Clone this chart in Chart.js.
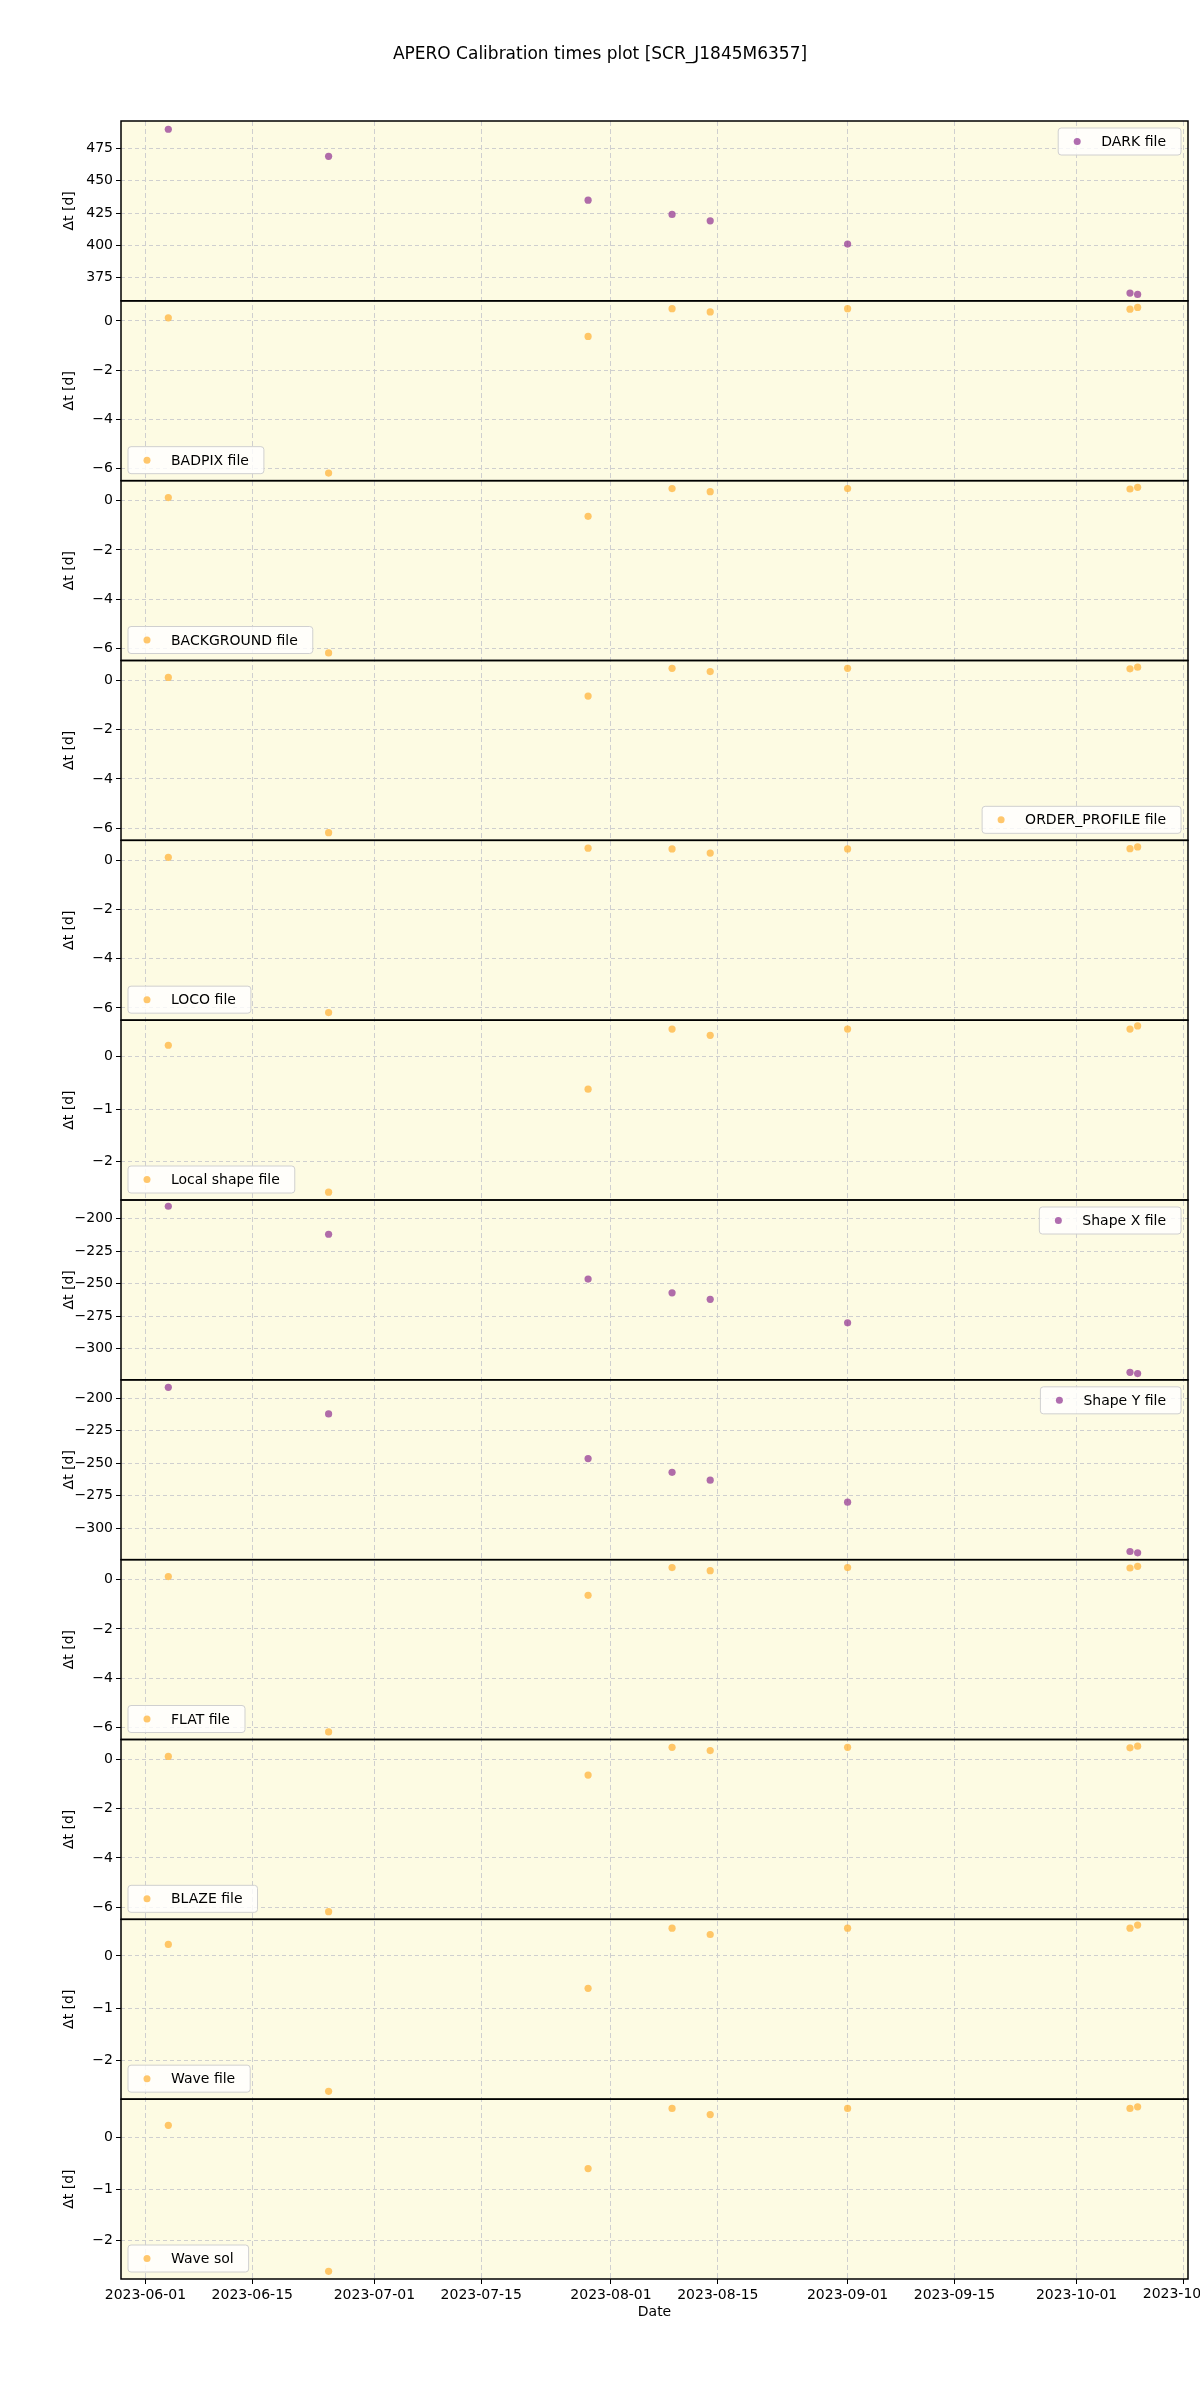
<!DOCTYPE html>
<html><head><meta charset="utf-8">
<script src="https://cdn.jsdelivr.net/npm/chart.js@4.4.0/dist/chart.umd.min.js"></script>
<style>
body{margin:0;background:#fff;width:1200px;height:2400px;position:relative;font-family:"DejaVu Sans";}
canvas{position:absolute;left:0;top:0;}
#title{position:absolute;top:43px;width:1200px;text-align:center;font-size:17px;color:#000;}
#xlab{position:absolute;top:2303px;left:121px;width:1067px;text-align:center;font-size:14px;}
</style></head><body>
<canvas id="c" width="1200" height="2400" style="width:1200px;height:2400px"></canvas>
<div id="title">APERO Calibration times plot [SCR_J1845M6357]</div>
<div id="xlab">Date</div>
<script>
const dates = ["2023-06-04","2023-06-25","2023-07-29","2023-08-09","2023-08-14","2023-09-01","2023-10-08","2023-10-09"];
const tickDates = ["2023-06-01","2023-06-15","2023-07-01","2023-07-15","2023-08-01","2023-08-15","2023-09-01","2023-09-15","2023-10-01","2023-10-15"];
const darkVals = [490, 469, 435, 424, 419, 401, 363, 362];
const badpixVals = [0.13, -6.19, -0.63, 0.5, 0.37, 0.5, 0.48, 0.55];
const backgroundVals = [0.13, -6.19, -0.63, 0.5, 0.37, 0.5, 0.48, 0.55];
const orderProfileVals = [0.13, -6.19, -0.63, 0.5, 0.37, 0.5, 0.48, 0.55];
const locoVals = [0.13, -6.19, 0.5, 0.47, 0.3, 0.47, 0.48, 0.55];
const localShapeVals = [0.22, -2.59, -0.62, 0.53, 0.41, 0.53, 0.53, 0.59];
const shapeXVals = [-190.5, -212, -246.4, -257, -262, -280, -318, -319];
const shapeYVals = [-191.5, -212, -246.4, -257, -263, -280, -318, -319];
const flatVals = [0.13, -6.19, -0.63, 0.5, 0.37, 0.5, 0.48, 0.55];
const blazeVals = [0.13, -6.19, -0.63, 0.5, 0.37, 0.5, 0.48, 0.55];
const waveFileVals = [0.22, -2.59, -0.62, 0.53, 0.41, 0.53, 0.53, 0.59];
const waveSolVals = [0.24, -2.6, -0.6, 0.57, 0.45, 0.57, 0.57, 0.6];

const DAY = 86400000;
const d2n = s => Date.parse(s + "T00:00:00Z") / DAY;
const n2s = n => new Date(n * DAY).toISOString().slice(0, 10);
const xMin = d2n("2023-05-28") + 0.8, xMax = d2n("2023-10-15") + 0.6;
const PURPLE = "rgba(150,60,150,0.75)", ORANGE = "rgba(255,180,60,0.75)";

const panels = [
 {label:"DARK file", v:darkVals, c:PURPLE, min:357, max:496.4, step:25, leg:"ur"},
 {label:"BADPIX file", v:badpixVals, c:ORANGE, min:-6.5, max:0.82, step:2, leg:"ll"},
 {label:"BACKGROUND file", v:backgroundVals, c:ORANGE, min:-6.5, max:0.82, step:2, leg:"ll"},
 {label:"ORDER_PROFILE file", v:orderProfileVals, c:ORANGE, min:-6.5, max:0.82, step:2, leg:"lr"},
 {label:"LOCO file", v:locoVals, c:ORANGE, min:-6.5, max:0.82, step:2, leg:"ll"},
 {label:"Local shape file", v:localShapeVals, c:ORANGE, min:-2.74, max:0.7, step:1, leg:"ll"},
 {label:"Shape X file", v:shapeXVals, c:PURPLE, min:-323.8, max:-185.7, step:25, leg:"ur"},
 {label:"Shape Y file", v:shapeYVals, c:PURPLE, min:-324.3, max:-185.7, step:25, leg:"ur"},
 {label:"FLAT file", v:flatVals, c:ORANGE, min:-6.5, max:0.82, step:2, leg:"ll"},
 {label:"BLAZE file", v:blazeVals, c:ORANGE, min:-6.5, max:0.82, step:2, leg:"ll"},
 {label:"Wave file", v:waveFileVals, c:ORANGE, min:-2.74, max:0.7, step:1, leg:"ll"},
 {label:"Wave sol", v:waveSolVals, c:ORANGE, min:-2.75, max:0.75, step:1, leg:"ll"}
];

const LEFT = 121, RIGHT = 1188;
const FONT = { family: "DejaVu Sans", size: 14 };
const ids = panels.map((p, i) => "y" + i);

const panelPlugin = {
  id: "panels",
  beforeDraw(ch) {
    const a = ch.chartArea, c = ch.ctx;
    c.save(); c.fillStyle = "#fdfbe3"; c.fillRect(a.left, a.top, a.right - a.left, a.bottom - a.top); c.restore();
  },
  afterDraw(ch) {
    const a = ch.chartArea, c = ch.ctx;
    c.save();
    const xs = ch.scales.x, lx = xs.getPixelForValue(d2n(tickDates[tickDates.length - 1]));
    c.fillStyle = "#000"; c.font = "14px 'DejaVu Sans'"; c.textAlign = "center"; c.textBaseline = "top";
    c.fillText(tickDates[tickDates.length - 1], lx, a.bottom + 8);
    panels.forEach((p, i) => {
      const s = ch.scales[ids[i]];
      c.strokeStyle = "#000"; c.lineWidth = 1.5;
      c.strokeRect(a.left, s.top, a.right - a.left, s.bottom - s.top);
      c.save(); c.translate(69, (s.top + s.bottom) / 2); c.rotate(-Math.PI / 2);
      c.fillStyle = "#000"; c.font = "14px 'DejaVu Sans'"; c.textAlign = "center"; c.textBaseline = "middle";
      c.fillText("Δt [d]", 0, 0); c.restore();
      c.font = "14px 'DejaVu Sans'";
      const tw = c.measureText(p.label).width, w = tw + 58, h = 27;
      let x, y;
      if (p.leg === "ur") { x = a.right - w - 7; y = s.top + 7; }
      else if (p.leg === "ll") { x = a.left + 7; y = s.bottom - h - 7; }
      else { x = a.right - w - 7; y = s.bottom - h - 7; }
      c.fillStyle = "rgba(255,255,255,0.8)"; c.strokeStyle = "#d0d0d0"; c.lineWidth = 1;
      c.beginPath(); c.roundRect(x, y, w, h, 3); c.fill(); c.stroke();
      c.fillStyle = p.c; c.beginPath(); c.arc(x + 19, y + h / 2, 3.5, 0, Math.PI * 2); c.fill();
      c.fillStyle = "#000"; c.textAlign = "left"; c.textBaseline = "middle"; c.fillText(p.label, x + 43, y + h / 2 + 1);
    });
    c.restore();
  }
};

const scales = {
  x: { type: "linear", min: xMin, max: xMax, position: "bottom",
    afterBuildTicks: s => { s.ticks = tickDates.map(t => ({ value: d2n(t) })); },
    afterFit: s => { s.height = 26; s.paddingRight = 0; },
    grid: { color: "#cfcfcf", lineWidth: 1, tickLength: 5, tickColor: "#000" },
    border: { display: false, dash: [5, 3] },
    ticks: { color: "#000", font: FONT, maxRotation: 0, autoSkip: false, padding: 3,
      callback: (v, k) => (k === tickDates.length - 1 ? "" : n2s(v)) } }
};
panels.slice().reverse().forEach((p) => {
  const i = panels.indexOf(p);
  scales[ids[i]] = {
    position: "left", stack: "st", stackWeight: 1, offset: false,
    min: p.min, max: p.max,
    afterBuildTicks: s => { const t = []; for (let v = Math.ceil(p.min / p.step) * p.step; v <= p.max; v += p.step) t.push({ value: v }); s.ticks = t; },
    afterFit: s => { s.width = LEFT; },
    grid: { color: "#cfcfcf", tickLength: 5, tickColor: "#000" },
    border: { display: false, dash: [4, 3] },
    ticks: { color: "#000", font: FONT, padding: 3, autoSkip: false,
      callback: v => (v < 0 ? "\u2212" + Math.abs(v) : String(v)) }
  };
});

new Chart(document.getElementById("c"), {
  type: "scatter",
  data: { datasets: panels.map((p, i) => ({ label: p.label, yAxisID: ids[i],
    data: dates.map((d, k) => ({ x: d2n(d), y: p.v[k] })),
    backgroundColor: p.c, borderWidth: 0, pointRadius: 3.6 })) },
  plugins: [panelPlugin],
  options: {
    responsive: false, animation: false, devicePixelRatio: 1,
    layout: { padding: { left: 0, right: 1200 - RIGHT, top: 121, bottom: 2400 - 2279 - 26 } },
    plugins: { legend: { display: false }, tooltip: { enabled: false } },
    scales
  }
});
</script>
</body></html>
